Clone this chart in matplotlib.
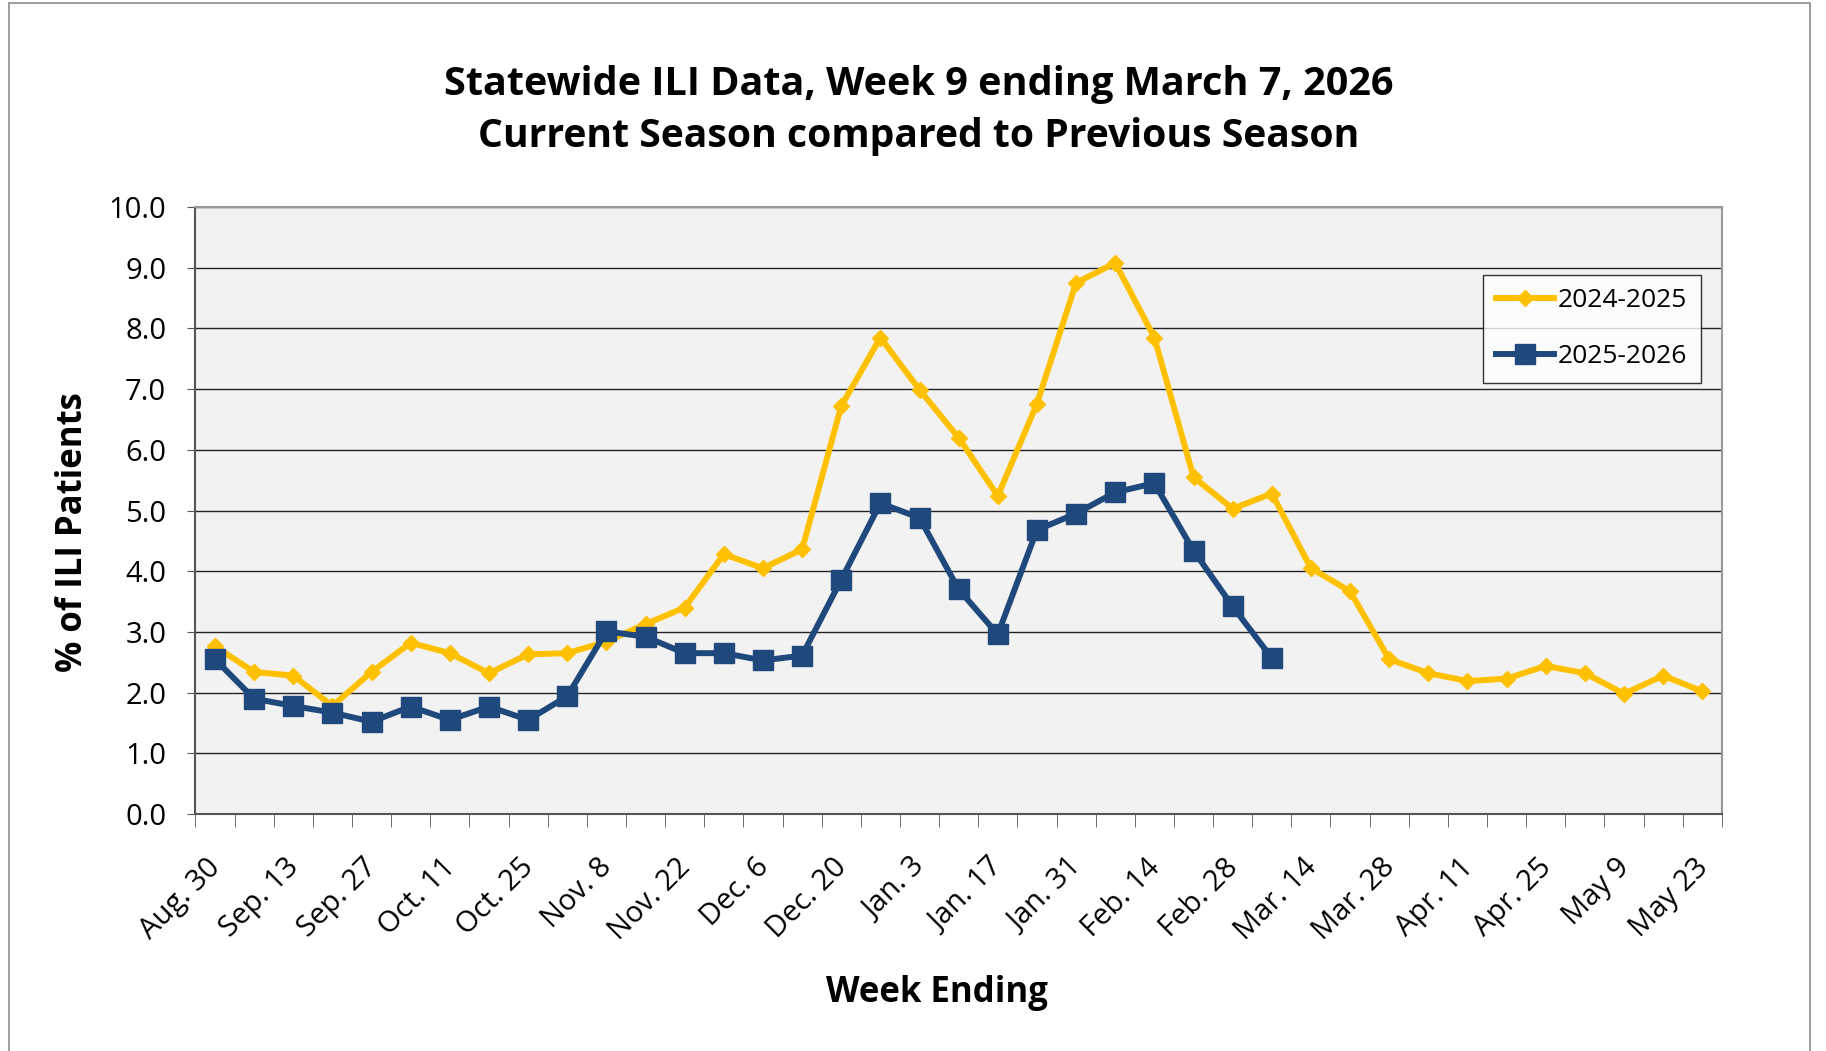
import numpy as np
import matplotlib
matplotlib.use('Agg')
import matplotlib.pyplot as plt
import matplotlib.transforms as mtransforms
from matplotlib.patches import Rectangle

weeks = ['Aug. 30', 'Sep. 6', 'Sep. 13', 'Sep. 20', 'Sep. 27', 'Oct. 4', 'Oct. 11',
         'Oct. 18', 'Oct. 25', 'Nov. 1', 'Nov. 8', 'Nov. 15', 'Nov. 22', 'Nov. 29',
         'Dec. 6', 'Dec. 13', 'Dec. 20', 'Dec. 27', 'Jan. 3', 'Jan. 10', 'Jan. 17',
         'Jan. 24', 'Jan. 31', 'Feb. 7', 'Feb. 14', 'Feb. 21', 'Feb. 28', 'Mar. 7',
         'Mar. 14', 'Mar. 21', 'Mar. 28', 'Apr. 4', 'Apr. 11', 'Apr. 18', 'Apr. 25',
         'May 2', 'May 9', 'May 16', 'May 23']

season_2425 = [2.76, 2.34, 2.28, 1.78, 2.34, 2.82, 2.65, 2.32, 2.63, 2.65,
               2.84, 3.13, 3.40, 4.28, 4.05, 4.36, 6.72, 7.85, 6.99, 6.20,
               5.24, 6.76, 8.75, 9.08, 7.85, 5.55, 5.03, 5.28, 4.05, 3.67,
               2.55, 2.32, 2.19, 2.23, 2.44, 2.32, 1.98, 2.28, 2.02]

season_2526 = [2.55, 1.90, 1.78, 1.67, 1.52, 1.77, 1.55, 1.77, 1.55, 1.94,
               3.01, 2.92, 2.65, 2.65, 2.53, 2.61, 3.86, 5.12, 4.88, 3.70,
               2.96, 4.68, 4.95, 5.30, 5.45, 4.34, 3.42, 2.57]

yticks = np.arange(0, 10.01, 1.0)

plt.rcParams['font.family'] = ['Open Sans', 'DejaVu Sans']

fig = plt.figure(figsize=(18.26, 10.51), dpi=100)
ax = fig.add_axes([0.107, 0.2255, 0.836, 0.5775])

# outer chart border
fig.patches.append(Rectangle((0.005, -0.01), 0.986, 1.007, transform=fig.transFigure,
                             fill=False, edgecolor='#8c8c8c', linewidth=1.2))

ax.set_facecolor('#F2F2F2')
x1 = np.arange(len(season_2425))
x2 = np.arange(len(season_2526))
ax.plot(x1, season_2425, color='#FFC000', linewidth=4.3, marker='D',
        markersize=8.5, label='2024-2025', zorder=3)
ax.plot(x2, season_2526, color='#1F497D', linewidth=4.3, marker='s',
        markersize=14, label='2025-2026', zorder=4)

ax.set_xlim(-0.5, len(weeks) - 0.5)
ax.set_ylim(0, 10)
ax.set_yticks(yticks)
ax.set_yticklabels([f'{v:.1f}' for v in yticks], fontsize=21)
ax.yaxis.grid(True, color='#222222', linewidth=1.0)
ax.set_axisbelow(True)

ax.set_xticks(np.arange(len(weeks))[::2])
ax.set_xticklabels(weeks[::2], rotation=45, ha='right', rotation_mode='anchor',
                   fontsize=21)
ax.tick_params(axis='x', length=0, pad=28)
shift = mtransforms.ScaledTranslation(-6.5 / 72, 0, fig.dpi_scale_trans)
for lbl in ax.get_xticklabels():
    lbl.set_transform(lbl.get_transform() + shift)
ax.set_xticks(np.arange(-0.5, len(weeks)), minor=True)
ax.tick_params(axis='x', which='minor', length=9, color='#555555')
ax.tick_params(axis='y', length=6, color='#555555', pad=15)

for s in ['left', 'bottom']:
    ax.spines[s].set_color('#555555')
    ax.spines[s].set_linewidth(1.5)
for s in ['top', 'right']:
    ax.spines[s].set_color('#999999')
    ax.spines[s].set_linewidth(1.5)

fig.text(0.040, 0.494, '% of ILI Patients', rotation=90, fontsize=25,
         fontweight='bold', ha='center', va='center')
fig.text(0.513, 0.055, 'Week Ending', fontsize=25, fontweight='bold',
         ha='center', va='center')
fig.text(0.503, 0.920, 'Statewide ILI Data, Week 9 ending March 7, 2026',
         fontsize=28.5, fontweight='bold', ha='center', va='center')
fig.text(0.503, 0.870, 'Current Season compared to Previous Season',
         fontsize=28.2, fontweight='bold', ha='center', va='center')

leg = ax.legend(loc='upper right', bbox_to_anchor=(0.986, 0.888), fontsize=19,
                frameon=True, fancybox=False, edgecolor='#000000',
                handlelength=2.2, labelspacing=1.18, borderpad=0.5,
                handletextpad=0.15, borderaxespad=0)
leg.get_frame().set_linewidth(1.0)
leg.get_frame().set_facecolor('white')

plt.savefig('out.png', dpi=100)
